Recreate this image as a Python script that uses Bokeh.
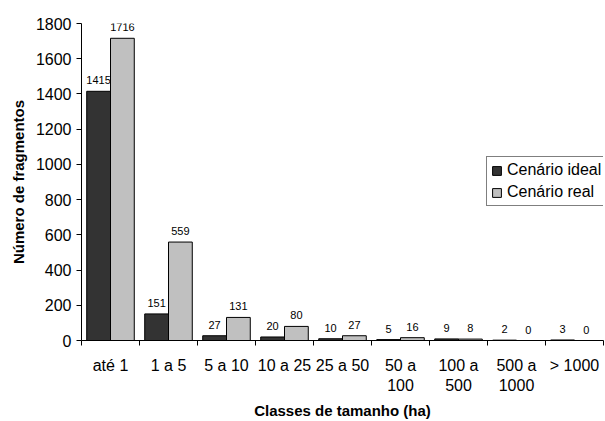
import numpy as np
from bokeh.plotting import figure
from bokeh.models import ColumnDataSource, FixedTicker, Range1d, Legend, LegendItem
from bokeh.core.properties import value
from bokeh.embed import file_html
from bokeh.resources import INLINE

categories = ["até 1", "1 a 5", "5 a 10", "10 a 25", "25 a 50", "50 a\n100", "100 a\n500", "500 a\n1000", "> 1000"]
ideal = [1415, 151, 27, 20, 10, 5, 9, 2, 3]
real = [1716, 559, 131, 80, 27, 16, 8, 0, 0]
y_ticks = [0, 200, 400, 600, 800, 1000, 1200, 1400, 1600, 1800]

FONT = "Liberation Sans"
n = len(categories)
centers = np.arange(n) + 0.5
bw = 0.41

src_i = ColumnDataSource(dict(x=centers - bw / 2, top=ideal, lbl=[str(v) for v in ideal]))
src_r = ColumnDataSource(dict(x=centers + bw / 2, top=real, lbl=[str(v) for v in real]))

p = figure(width=605, height=421, output_backend="svg", toolbar_location=None,
           x_range=Range1d(0, n), y_range=Range1d(0, 1800),
           min_border_left=81, min_border_top=23, min_border_bottom=81, min_border_right=2)
p.outline_line_color = None
p.grid.grid_line_color = None
p.background_fill_color = "white"

r1 = p.vbar(x="x", top="top", width=bw, source=src_i, fill_color="#333333", line_color="#000000", line_width=1)
r2 = p.vbar(x="x", top="top", width=bw, source=src_r, fill_color="#c0c0c0", line_color="#000000", line_width=1)

for src in (src_i, src_r):
    p.text(x="x", y="top", text="lbl", source=src, text_align="center", text_baseline="bottom",
           y_offset=-7, text_font_size="11px", text_font=value(FONT), text_color="#000000")

# x axis
xa = p.xaxis[0]
xa.ticker = FixedTicker(ticks=list(centers), minor_ticks=list(range(n + 1)))
xa.major_label_overrides = {float(c): lab for c, lab in zip(centers, categories)}
xa.major_tick_out = 0
xa.major_tick_in = 0
xa.minor_tick_out = 5
xa.minor_tick_in = 0
xa.minor_tick_line_color = "black"
xa.axis_line_color = "black"
xa.major_label_text_font = FONT
xa.major_label_text_font_size = "16px"
xa.major_label_text_color = "black"
xa.major_label_standoff = 11
xa.axis_label = "Classes de tamanho (ha)"
xa.axis_label_text_font = FONT
xa.axis_label_text_font_style = "bold"
xa.axis_label_text_font_size = "15px"
xa.axis_label_text_color = "black"
xa.axis_label_standoff = 5

ya = p.yaxis[0]
ya.ticker = FixedTicker(ticks=y_ticks)
ya.minor_tick_line_color = None
ya.major_tick_out = 5
ya.major_tick_in = 0
ya.axis_line_color = "black"
ya.major_label_text_font = FONT
ya.major_label_text_font_size = "16px"
ya.major_label_text_color = "black"
ya.major_label_standoff = 5
ya.axis_label = "Número de fragmentos"
ya.axis_label_text_font = FONT
ya.axis_label_text_font_style = "bold"
ya.axis_label_text_font_size = "15px"
ya.axis_label_text_color = "black"
ya.axis_label_standoff = 6

legend = Legend(items=[LegendItem(label="Cenário ideal", renderers=[r1]),
                       LegendItem(label="Cenário real", renderers=[r2])],
                location=(405, 134))
legend.border_line_color = "black"
legend.border_line_width = 1
legend.background_fill_alpha = 1
legend.label_text_font = FONT
legend.label_text_font_size = "16px"
legend.label_text_color = "black"
legend.glyph_width = 11
legend.glyph_height = 11
legend.label_standoff = 5
legend.spacing = 4
legend.padding = 4
legend.margin = 0
legend.label_height = 18
p.add_layout(legend)

open("out.html", "w").write(file_html(p, INLINE))
